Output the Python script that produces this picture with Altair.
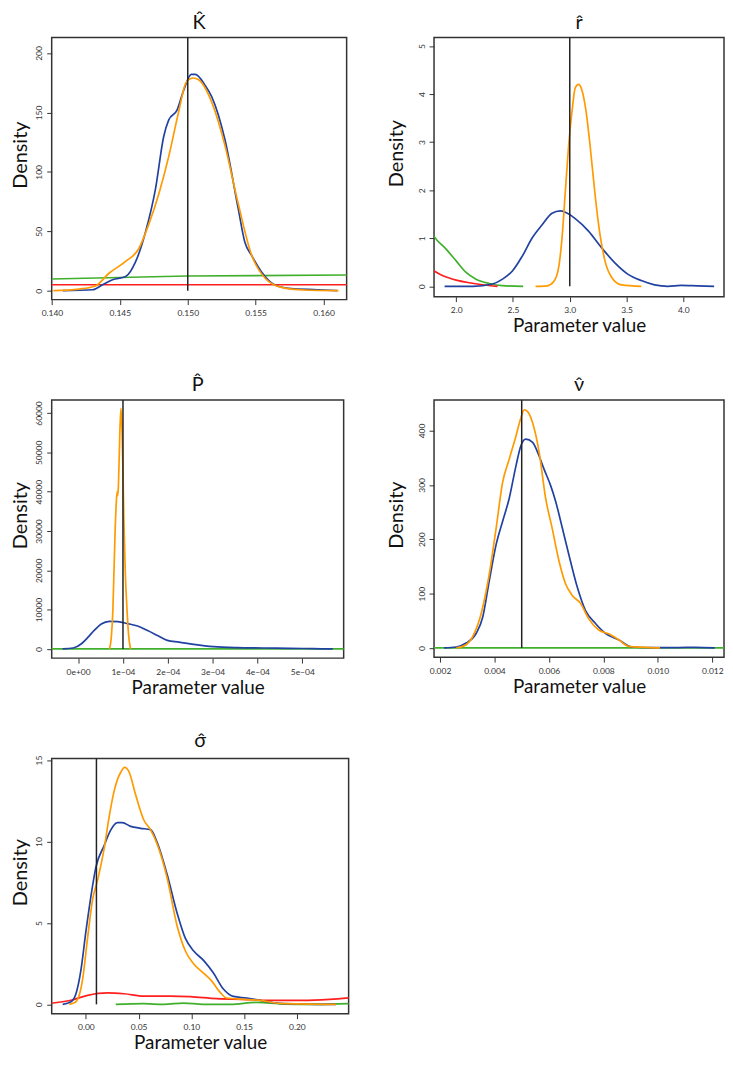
import json
import altair as alt
import pandas as pd

FONT = "Lato"
BLUE = "#2142A0"
ORANGE = "#FF9A00"
GREEN = "#40B02C"
RED = "#FF1F1F"

# ---------------- K panel ----------------
K_blue_x = [0.14080, 0.14300, 0.14373, 0.14446, 0.14543, 0.14616, 0.14689, 0.14762, 0.14823, 0.14860,
            0.14921, 0.14970, 0.15026, 0.15055, 0.15128, 0.15177, 0.15274, 0.15372, 0.15420, 0.15469,
            0.15542, 0.15639, 0.15761, 0.15956, 0.16102]
K_blue_y = [0, 0.8, 5, 9.2, 11.9, 24.4, 49.4, 85.4, 129.8, 143.7,
            152, 168.7, 182, 182, 172.8, 163.1, 127, 68.8, 41, 29.9,
            16, 5, 1.7, 0.8, 0]
K_orange_x = [0.1401, 0.1420, 0.1432, 0.1442, 0.1454, 0.1464, 0.1471, 0.1479, 0.1486, 0.1493,
              0.1499, 0.1504, 0.1508, 0.1518, 0.1527, 0.1537, 0.1547, 0.1557, 0.1569, 0.1586, 0.1611]
K_orange_y = [0, 1.4, 4, 14.7, 24.4, 35.5, 55, 82.7, 113, 149,
              175.6, 179, 177.5, 157.6, 124, 74, 30, 10.5, 2.8, 0.6, 0]
K_green_x = [0.1380, 0.1500, 0.1640]
K_green_y = [9.4, 12.4, 13.4]
K_red_x = [0.1380, 0.1640]
K_red_y = [5.0, 5.0]
K_true = 0.150

# ---------------- r panel ----------------
r_blue_x = [1.898, 2.146, 2.320, 2.408, 2.495, 2.582, 2.670, 2.757, 2.844, 2.917, 2.961, 3.048,
            3.165, 3.281, 3.397, 3.514, 3.630, 3.747, 3.863, 3.980, 4.125, 4.271]
r_blue_y = [0, 0, 0.05, 0.15, 0.32, 0.63, 1.01, 1.28, 1.52, 1.57, 1.54, 1.41,
            1.15, 0.80, 0.49, 0.25, 0.12, 0.03, 0, 0.02, 0.01, 0]
r_orange_x = [2.699, 2.801, 2.859, 2.902, 2.932, 2.961, 2.990, 3.025, 3.048, 3.077, 3.106, 3.141,
              3.179, 3.223, 3.266, 3.310, 3.368, 3.456, 3.630]
r_orange_y = [0, 0.01, 0.1, 0.39, 1.01, 1.97, 2.93, 3.75, 4.13, 4.20, 4.09, 3.68,
              2.93, 1.90, 1.08, 0.53, 0.19, 0.03, 0]
r_green_x = [1.780, 1.805, 1.913, 2.000, 2.087, 2.175, 2.291, 2.408, 2.590]
r_green_y = [1.14, 1.04, 0.77, 0.53, 0.29, 0.15, 0.06, 0.014, 0]
r_red_x = [1.780, 1.805, 1.884, 2.000, 2.116, 2.233, 2.364]
r_red_y = [0.35, 0.32, 0.22, 0.13, 0.075, 0.034, 0]
r_true = 3.0

# ---------------- P panel ----------------
P_blue_x = [-0.347e-4, -0.11e-4, 0.074e-4, 0.221e-4, 0.369e-4, 0.516e-4, 0.70e-4, 0.885e-4, 1.106e-4,
            1.327e-4, 1.549e-4, 1.77e-4, 1.99e-4, 2.25e-4, 2.58e-4, 3.02e-4, 3.54e-4, 4.13e-4,
            4.72e-4, 5.24e-4, 5.68e-4]
P_blue_y = [0, 250, 1335, 3000, 4840, 6340, 7010, 6930, 6430,
            5840, 4670, 3420, 2170, 1750, 1170, 584, 334, 250,
            167, 83, 0]
P_orange_x = [0.70e-4, 0.74e-4, 0.775e-4, 0.80e-4, 0.825e-4, 0.85e-4, 0.87e-4, 0.885e-4, 0.90e-4,
              0.93e-4, 0.955e-4, 0.98e-4, 1.0e-4, 1.02e-4, 1.05e-4, 1.09e-4, 1.13e-4, 1.17e-4]
P_orange_y = [0, 3000, 10000, 20000, 30000, 37000, 40000, 39000, 42000,
              55000, 61200, 55000, 45000, 33000, 20000, 10000, 3000, 0]
P_green_x = [-0.7e-4, 6.0e-4]
P_green_y = [0, 0]
P_true = 1.0e-4
P_xtick_values = [0, 1e-4, 2e-4, 3e-4, 4e-4, 5e-4]
P_xtick_labels = ["0e+00", "1e\u221204", "2e\u221204", "3e\u221204", "4e\u221204", "5e\u221204"]

# ---------------- nu panel ----------------
v_blue_x = [0.00215, 0.0026, 0.00296, 0.00333, 0.00357, 0.00381, 0.00406, 0.0043, 0.00454, 0.00479,
            0.00497, 0.00515, 0.0054, 0.00564, 0.00582, 0.00606, 0.00625, 0.00649, 0.00673, 0.00704,
            0.00734, 0.00771, 0.00807, 0.00856, 0.00904, 0.00977, 0.01075, 0.01136, 0.01209]
v_blue_y = [0, 1.8, 9, 27, 57, 124, 190, 233, 275, 335,
            372, 384, 378, 353, 329, 299, 269, 221, 172, 112,
            69, 45, 27, 15, 1.8, 0.6, 0.6, 1.2, 0]
v_orange_x = [0.0026, 0.00296, 0.0032, 0.00351, 0.00381, 0.00406, 0.0043, 0.00454, 0.00479, 0.00497,
              0.00509, 0.00521, 0.0054, 0.00564, 0.00588, 0.00612, 0.00637, 0.00661, 0.00685, 0.00716,
              0.00746, 0.00783, 0.00819, 0.00856, 0.00892, 0.00953, 0.01008]
v_orange_y = [0, 6, 21, 63, 136, 220, 305, 347, 390, 423,
              438, 435, 414, 360, 275, 220, 160, 118, 97, 82,
              54, 33, 26, 15, 3, 1.2, 0]
v_green_x = [0.0015, 0.0130]
v_green_y = [0, 0]
v_true = 0.005

# ---------------- sigma panel ----------------
s_blue_x = [-0.022, -0.0141, -0.0094, -0.0047, 0.0, 0.0047, 0.0094, 0.0173, 0.0235, 0.0298, 0.0345,
            0.0424, 0.0518, 0.0612, 0.0675, 0.0769, 0.0863, 0.0942, 0.102, 0.1115, 0.1209, 0.1303,
            0.1397, 0.1523, 0.1648, 0.1837, 0.2057, 0.237]
s_blue_y = [0, 0.16, 0.65, 2.1, 4.46, 6.6, 8.4, 9.75, 10.7, 11.16, 11.16,
            10.93, 10.81, 10.73, 9.95, 8.0, 5.64, 4.07, 3.29, 2.7, 1.92, 0.94,
            0.49, 0.39, 0.25, 0.06, 0.02, 0]
s_orange_x = [-0.0157, -0.0094, -0.0031, 0.0016, 0.0063, 0.011, 0.0173, 0.022, 0.0267, 0.033, 0.0367,
              0.0408, 0.0471, 0.0549, 0.0612, 0.0675, 0.0769, 0.0863, 0.0942, 0.102, 0.1115, 0.1193,
              0.1272, 0.1334, 0.1491, 0.1648, 0.1837, 0.237]
s_orange_y = [0, 0.16, 1.53, 4.07, 6.42, 7.6, 9.56, 11.5, 13.08, 14.25, 14.55,
              14.29, 12.88, 11.32, 10.73, 9.85, 7.79, 4.86, 3.29, 2.5, 1.92, 1.43,
              0.74, 0.39, 0.31, 0.25, 0.06, 0]
s_red_x = [-0.040, -0.0141, 0.0016, 0.0204, 0.0361, 0.0549, 0.08, 0.0989, 0.124, 0.149, 0.174,
           0.2057, 0.2308, 0.255]
s_red_y = [0.03, 0.25, 0.55, 0.7, 0.65, 0.51, 0.51, 0.47, 0.35, 0.31, 0.25,
           0.25, 0.31, 0.43]
s_green_x = [0.0283, 0.055, 0.074, 0.0926, 0.111, 0.137, 0.162, 0.187, 0.218, 0.255]
s_green_y = [0, 0.04, 0, 0.08, 0, 0, 0.12, 0.02, 0, 0.06]
s_true = 0.01


def panel(title, series, true_val, xdom, ydom, xticks, yticks, xfmt, width, height,
          xtitle, ytitle_pad, xlabel_expr=None):
    xaxis_kw = dict(values=xticks, format=xfmt, domain=False, grid=False, tickSize=5,
                    tickColor="#333", labelColor="#333", labelFontSize=8.5, labelFont=FONT,
                    labelPadding=4, tickWidth=1, labelFlush=False, labelOverlap=False)
    if xlabel_expr:
        xaxis_kw["labelExpr"] = xlabel_expr
    if xtitle:
        xaxis_kw.update(title=xtitle, titleFont=FONT, titleFontSize=19, titleFontWeight="normal",
                        titleColor="#111", titlePadding=3)
    else:
        xaxis_kw.update(title=None)
    yaxis = alt.Axis(values=yticks, format="d", domain=False, grid=False, tickSize=5,
                     tickColor="#333", labelColor="#333", labelFontSize=8.5, labelFont=FONT,
                     labelAngle=270, labelPadding=3, labelFlush=False, labelOverlap=False,
                     title="Density", titleFont=FONT, titleFontSize=20, titleFontWeight="normal",
                     titleColor="#111", titlePadding=ytitle_pad, titleY=height / 2 - 14)
    xenc = alt.X("x:Q", scale=alt.Scale(domain=xdom, nice=False, zero=False), axis=alt.Axis(**xaxis_kw))
    yenc = alt.Y("y:Q", scale=alt.Scale(domain=ydom, nice=False, zero=False), axis=yaxis)
    layers = []
    for xs, ys, col in series:
        df = pd.DataFrame({"x": xs, "y": ys})
        layers.append(alt.Chart(df).mark_line(clip=True, color=col, strokeWidth=1.7,
                                              interpolate="monotone").encode(x=xenc, y=yenc))
    rule_df = pd.DataFrame({"x": [true_val]})
    layers.append(alt.Chart(rule_df).mark_rule(color="#222", strokeWidth=1.5).encode(
        x="x:Q", y=alt.datum(0), y2=alt.value(0)))
    return alt.layer(*layers).properties(
        width=width, height=height,
        title=alt.TitleParams(title, font=FONT, fontSize=20, fontWeight="normal", color="#111",
                              offset=4, anchor="middle"))


p1 = panel("K\u0302", [(K_green_x, K_green_y, GREEN), (K_red_x, K_red_y, RED),
                       (K_blue_x, K_blue_y, BLUE), (K_orange_x, K_orange_y, ORANGE)],
           K_true, [0.13998, 0.1617], [-7.5, 213.1],
           [0.140, 0.145, 0.150, 0.155, 0.160], [0, 50, 100, 150, 200], ".3f",
           297, 264, None, 4)
p2 = panel("r\u0302", [(r_green_x, r_green_y, GREEN), (r_red_x, r_red_y, RED),
                       (r_blue_x, r_blue_y, BLUE), (r_orange_x, r_orange_y, ORANGE)],
           r_true, [1.805, 4.358], [-0.214, 5.177],
           [2.0, 2.5, 3.0, 3.5, 4.0], [0, 1, 2, 3, 4, 5], ".1f",
           292, 261, "Parameter value", 11)
p3 = panel("P\u0302", [(P_green_x, P_green_y, GREEN),
                       (P_blue_x, P_blue_y, BLUE), (P_orange_x, P_orange_y, ORANGE)],
           P_true, [-0.59e-4, 5.923e-4], [-2330, 63330],
           P_xtick_values, [0, 10000, 20000, 30000, 40000, 50000, 60000], ".0e",
           294, 260, "Parameter value", 4,
           xlabel_expr=json.dumps(P_xtick_labels) + "[round(datum.value*10000)]")
p4 = panel("\u03bd\u0302", [(v_green_x, v_green_y, GREEN),
                            (v_blue_x, v_blue_y, BLUE), (v_orange_x, v_orange_y, ORANGE)],
           v_true, [0.00178, 0.01243], [-16.9, 456.2],
           [0.002, 0.004, 0.006, 0.008, 0.010, 0.012], [0, 100, 200, 300, 400], ".3f",
           292, 259, "Parameter value", 11)
p5 = panel("\u03c3\u0302", [(s_green_x, s_green_y, GREEN), (s_red_x, s_red_y, RED),
                            (s_blue_x, s_blue_y, BLUE), (s_orange_x, s_orange_y, ORANGE)],
           s_true, [-0.0324, 0.249], [-0.57, 15.1],
           [0.0, 0.05, 0.10, 0.15, 0.20], [0, 5, 10, 15], ".2f",
           299, 257, "Parameter value", 4)

chart = alt.concat(p1, p2, p3, p4, p5, columns=2, spacing={"row": 101, "column": 86},
                   align="each", bounds="flush").properties(
    padding={"left": 2, "top": 0, "right": 0, "bottom": 0}).configure_view(
    stroke="#333", strokeWidth=1.5)

chart.save("out.html", embed_options={"renderer": "svg", "actions": False})
